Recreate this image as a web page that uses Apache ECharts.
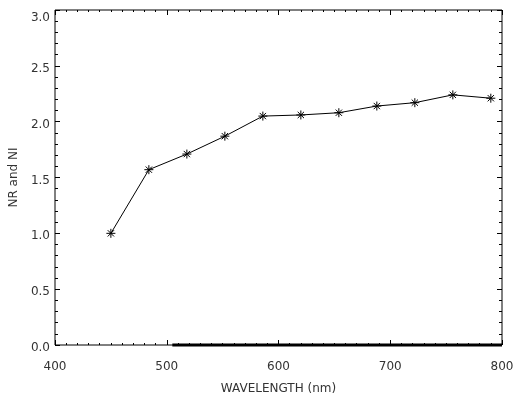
<!DOCTYPE html>
<html>
<head>
<meta charset="utf-8">
<script src="https://cdn.jsdelivr.net/npm/echarts@6/dist/echarts.min.js"></script>
<style>
  html, body { margin: 0; padding: 0; background: #fff; }
  #chart { width: 513px; height: 400px; }
</style>
</head>
<body>
<div id="chart"></div>
<script>
// data
var wavelength = [450, 484, 518, 552, 586, 620, 654, 688, 722, 756, 790];
var nr = [1.00, 1.57, 1.71, 1.87, 2.05, 2.06, 2.08, 2.14, 2.17, 2.24, 2.21];
var niWave = [505, 800];
var ni = [0, 0];

var xTicks = { min: 400, max: 800, interval: 100 };
var yTicks = { min: 0, max: 3, interval: 0.5 };

var font = 'DejaVu Sans';
var ink = '#333';
var star = 'path://M5,0L5,10M0,5L10,5M1.5,1.5L8.5,8.5M1.5,8.5L8.5,1.5';

function zip(xs, ys) {
  var out = [];
  for (var i = 0; i < xs.length; i++) out.push([xs[i], ys[i]]);
  return out;
}

var myChart = echarts.init(document.getElementById('chart'), null, { renderer: 'canvas' });

// frame is drawn by the grid border, axis lines kept transparent
function xAxis(pos, labels) {
  return {
    type: 'value', position: pos,
    min: xTicks.min, max: xTicks.max, interval: xTicks.interval,
    axisLine: { show: true, onZero: false, lineStyle: { color: 'rgba(0,0,0,0)', width: 1 } },
    axisTick: { show: true, inside: true, length: 5, lineStyle: { color: '#000' } },
    minorTick: { show: true, splitNumber: 10, length: 2, lineStyle: { color: '#000' } },
    splitLine: { show: false },
    axisLabel: { show: labels, inside: false, margin: 16, color: ink, fontFamily: font, fontSize: 12 },
    name: labels ? 'WAVELENGTH (nm)' : '',
    nameLocation: 'middle', nameGap: 38,
    nameTextStyle: { color: ink, fontFamily: font, fontSize: 12 }
  };
}

function yAxis(pos, labels) {
  return {
    type: 'value', position: pos,
    min: yTicks.min, max: yTicks.max, interval: yTicks.interval,
    axisLine: { show: true, onZero: false, lineStyle: { color: 'rgba(0,0,0,0)', width: 1 } },
    axisTick: { show: true, inside: true, length: 5, lineStyle: { color: '#000' } },
    minorTick: { show: true, splitNumber: 5, length: 3, lineStyle: { color: '#000' } },
    splitLine: { show: false },
    axisLabel: {
      show: labels, inside: false, margin: 5, color: ink, fontFamily: font, fontSize: 12,
      padding: [6, 0, 0, 0],
      formatter: function (v) {
        return v === yTicks.max ? '{top|' + v.toFixed(1) + '}' : v.toFixed(1);
      },
      rich: { top: { color: ink, fontFamily: font, fontSize: 12, padding: [10, 0, 0, 0] } }
    },
    name: labels ? 'NR and NI' : '',
    nameLocation: 'middle', nameGap: 34, nameRotate: 90,
    nameTextStyle: { color: ink, fontFamily: font, fontSize: 12 }
  };
}

var option = {
  animation: false,
  backgroundColor: '#fff',
  grid: {
    left: 55, right: 11, top: 10, bottom: 55,
    outerBoundsMode: 'none', containLabel: false,
    show: true, borderColor: '#000', borderWidth: 1, backgroundColor: 'transparent'
  },
  xAxis: [xAxis('bottom', true), xAxis('top', false)],
  yAxis: [yAxis('left', true), yAxis('right', false)],
  series: [
    {
      name: 'NR', type: 'line',
      data: zip(wavelength, nr),
      symbol: star, symbolSize: 9,
      itemStyle: { color: 'none', borderColor: '#000', borderWidth: 1 },
      lineStyle: { color: '#000', width: 1 }
    },
    {
      name: 'NI', type: 'line',
      data: zip(niWave, ni),
      symbol: 'none', clip: false,
      lineStyle: { color: '#000', width: 3 }
    }
  ]
};
myChart.setOption(option, true);
</script>
</body>
</html>
